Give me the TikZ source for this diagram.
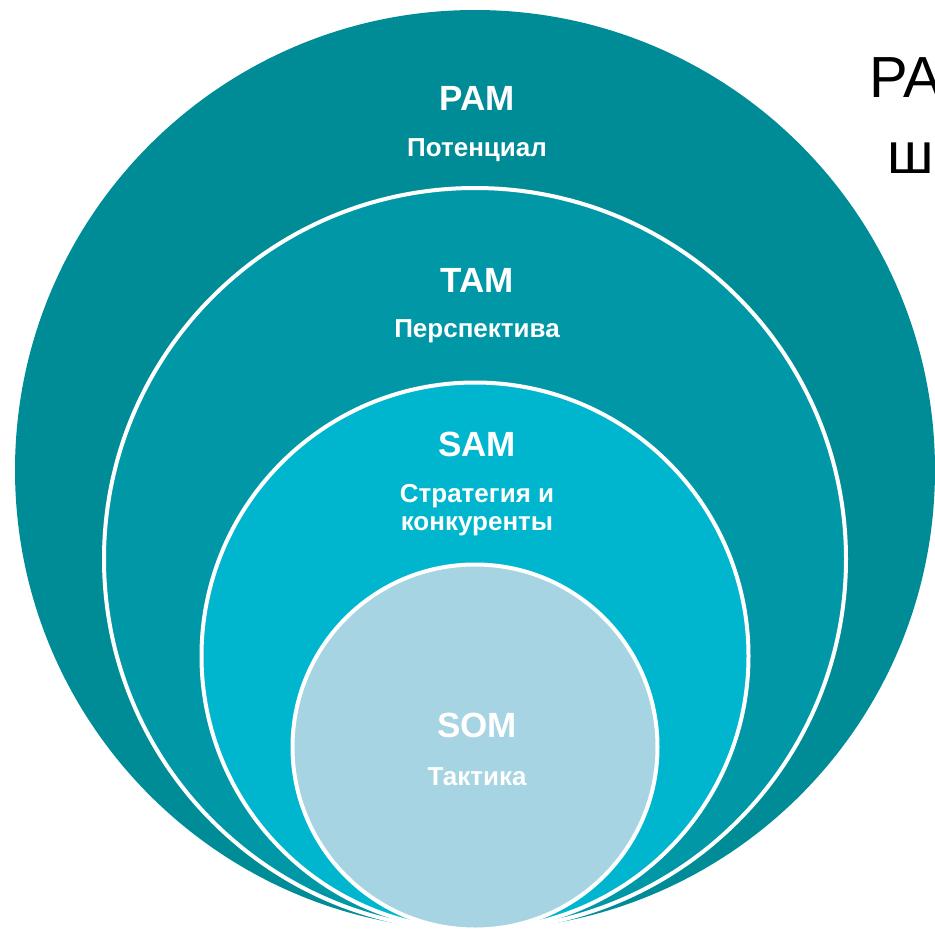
\documentclass[tikz,border=0pt]{standalone}
\usepackage{fontspec}
\setmainfont{Liberation Sans}
\definecolor{cpam}{RGB}{0,140,150}
\definecolor{ctam}{RGB}{0,151,167}
\definecolor{csam}{RGB}{0,182,206}
\definecolor{csom}{RGB}{166,212,226}
\begin{document}
\begin{tikzpicture}[x=1pt,y=1pt,
  ring/.style={circle,inner sep=0pt,draw=white,line width=4pt},
  ttl/.style={text=white,font=\fontsize{35}{40}\selectfont\bfseries},
  sub/.style={text=white,font=\fontsize{26}{28}\selectfont\bfseries,align=center},
  side/.style={text=black,font=\fontsize{58}{60}\selectfont,anchor=base west}]
\useasboundingbox (0,0) rectangle (935,-930);
\node[circle,inner sep=0pt,fill=cpam,minimum size=920pt] (pam) at (475,-470) {};
\node[ring,fill=ctam,minimum size=742pt] (tam) at (475,-559) {};
\node[ring,fill=csam,minimum size=547pt] (sam) at (475,-656) {};
\node[ring,fill=csom,minimum size=365pt] (som) at (475,-747) {};
\node[ttl] (pamt) at (477,-98) {PAM};
\node[sub] (pams) at (477,-150) {Потенциал};
\node[ttl] (tamt) at (477,-280) {TAM};
\node[sub] (tams) at (477,-331) {Перспектива};
\node[ttl] (samt) at (477,-444) {SAM};
\node[sub] (sams) at (477,-510) {Стратегия и\\конкуренты};
\node[ttl] (somt) at (477,-725) {SOM};
\node[sub] (soms) at (477,-777) {Тактика};
\node[side] (s1) at (866,-97) {PA};
\node[side] (s2) at (884,-173) {ш};
\end{tikzpicture}
\end{document}
